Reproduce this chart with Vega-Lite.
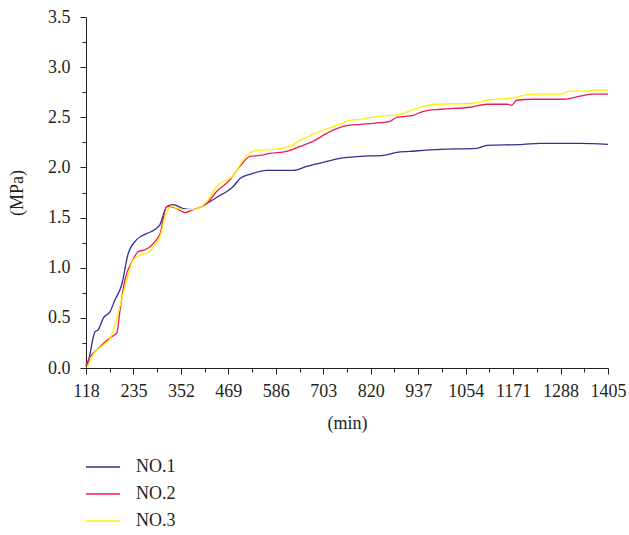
{
  "$schema": "https://vega.github.io/schema/vega-lite/v6.json",
  "autosize": {"type": "none"},
  "width": 522,
  "height": 351,
  "padding": {"left": 86, "top": 17, "right": 21, "bottom": 167},
  "background": "white",
  "config": {
    "view": {"stroke": null},
    "font": "Liberation Serif",
    "axis": {"labelFont": "Liberation Serif", "titleFont": "Liberation Serif", "labelFontSize": 18, "titleFontSize": 18, "titleFontWeight": "normal", "labelColor": "#231f20", "titleColor": "#231f20", "domainColor": "#231f20", "tickColor": "#231f20", "grid": false}
  },
  "data": {"values": [
    {"s":"NO.1","t":118,"p":0.02},{"s":"NO.1","t":124,"p":0.07},{"s":"NO.1","t":134.5,"p":0.28},{"s":"NO.1","t":140,"p":0.36},{"s":"NO.1","t":148,"p":0.38},{"s":"NO.1","t":161,"p":0.5},{"s":"NO.1","t":177,"p":0.56},{"s":"NO.1","t":189.5,"p":0.68},{"s":"NO.1","t":206,"p":0.83},{"s":"NO.1","t":222,"p":1.14},{"s":"NO.1","t":243,"p":1.28},{"s":"NO.1","t":267.6,"p":1.34},{"s":"NO.1","t":288,"p":1.38},{"s":"NO.1","t":300.4,"p":1.43},{"s":"NO.1","t":317,"p":1.61},{"s":"NO.1","t":333,"p":1.63},{"s":"NO.1","t":358,"p":1.59},{"s":"NO.1","t":382.5,"p":1.58},{"s":"NO.1","t":415.6,"p":1.64},{"s":"NO.1","t":448,"p":1.72},{"s":"NO.1","t":465,"p":1.76},{"s":"NO.1","t":481,"p":1.81},{"s":"NO.1","t":497.7,"p":1.89},{"s":"NO.1","t":522,"p":1.93},{"s":"NO.1","t":563.5,"p":1.97},{"s":"NO.1","t":629,"p":1.97},{"s":"NO.1","t":662,"p":2.01},{"s":"NO.1","t":711.5,"p":2.06},{"s":"NO.1","t":744,"p":2.09},{"s":"NO.1","t":793.6,"p":2.11},{"s":"NO.1","t":851,"p":2.12},{"s":"NO.1","t":884,"p":2.15},{"s":"NO.1","t":917,"p":2.16},{"s":"NO.1","t":991,"p":2.18},{"s":"NO.1","t":1081,"p":2.19},{"s":"NO.1","t":1106,"p":2.22},{"s":"NO.1","t":1196,"p":2.23},{"s":"NO.1","t":1237,"p":2.24},{"s":"NO.1","t":1336,"p":2.24},{"s":"NO.1","t":1405,"p":2.23},
    {"s":"NO.2","t":118,"p":0.03},{"s":"NO.2","t":128,"p":0.11},{"s":"NO.2","t":144,"p":0.18},{"s":"NO.2","t":157,"p":0.23},{"s":"NO.2","t":177,"p":0.3},{"s":"NO.2","t":194,"p":0.35},{"s":"NO.2","t":202,"p":0.58},{"s":"NO.2","t":214,"p":0.88},{"s":"NO.2","t":231,"p":1.06},{"s":"NO.2","t":247,"p":1.16},{"s":"NO.2","t":263.5,"p":1.18},{"s":"NO.2","t":276,"p":1.21},{"s":"NO.2","t":292,"p":1.28},{"s":"NO.2","t":300,"p":1.33},{"s":"NO.2","t":317,"p":1.61},{"s":"NO.2","t":337,"p":1.6},{"s":"NO.2","t":362,"p":1.55},{"s":"NO.2","t":382.5,"p":1.58},{"s":"NO.2","t":415.6,"p":1.64},{"s":"NO.2","t":440,"p":1.76},{"s":"NO.2","t":469,"p":1.86},{"s":"NO.2","t":497.7,"p":2.01},{"s":"NO.2","t":522,"p":2.11},{"s":"NO.2","t":547,"p":2.12},{"s":"NO.2","t":571.6,"p":2.14},{"s":"NO.2","t":613,"p":2.16},{"s":"NO.2","t":645.6,"p":2.21},{"s":"NO.2","t":678,"p":2.26},{"s":"NO.2","t":711.5,"p":2.34},{"s":"NO.2","t":752,"p":2.41},{"s":"NO.2","t":793.6,"p":2.43},{"s":"NO.2","t":826,"p":2.44},{"s":"NO.2","t":867.5,"p":2.46},{"s":"NO.2","t":884,"p":2.5},{"s":"NO.2","t":925,"p":2.52},{"s":"NO.2","t":950,"p":2.56},{"s":"NO.2","t":991,"p":2.58},{"s":"NO.2","t":1065,"p":2.6},{"s":"NO.2","t":1106,"p":2.63},{"s":"NO.2","t":1155,"p":2.63},{"s":"NO.2","t":1167.6,"p":2.62},{"s":"NO.2","t":1180,"p":2.67},{"s":"NO.2","t":1221,"p":2.68},{"s":"NO.2","t":1295,"p":2.68},{"s":"NO.2","t":1336,"p":2.71},{"s":"NO.2","t":1369,"p":2.73},{"s":"NO.2","t":1405,"p":2.73},
    {"s":"NO.3","t":120,"p":0.0},{"s":"NO.3","t":124,"p":0.03},{"s":"NO.3","t":140,"p":0.16},{"s":"NO.3","t":161,"p":0.23},{"s":"NO.3","t":177,"p":0.29},{"s":"NO.3","t":197.6,"p":0.55},{"s":"NO.3","t":214,"p":0.81},{"s":"NO.3","t":234.6,"p":1.08},{"s":"NO.3","t":255,"p":1.13},{"s":"NO.3","t":271.6,"p":1.15},{"s":"NO.3","t":284,"p":1.21},{"s":"NO.3","t":300.4,"p":1.31},{"s":"NO.3","t":317,"p":1.56},{"s":"NO.3","t":329,"p":1.61},{"s":"NO.3","t":358,"p":1.58},{"s":"NO.3","t":382.5,"p":1.58},{"s":"NO.3","t":415.6,"p":1.66},{"s":"NO.3","t":440,"p":1.81},{"s":"NO.3","t":481,"p":1.92},{"s":"NO.3","t":514,"p":2.12},{"s":"NO.3","t":539,"p":2.17},{"s":"NO.3","t":580,"p":2.18},{"s":"NO.3","t":621,"p":2.21},{"s":"NO.3","t":645.6,"p":2.27},{"s":"NO.3","t":695,"p":2.36},{"s":"NO.3","t":736,"p":2.42},{"s":"NO.3","t":769,"p":2.47},{"s":"NO.3","t":793.6,"p":2.48},{"s":"NO.3","t":843,"p":2.51},{"s":"NO.3","t":892,"p":2.53},{"s":"NO.3","t":941.5,"p":2.6},{"s":"NO.3","t":983,"p":2.63},{"s":"NO.3","t":1073,"p":2.64},{"s":"NO.3","t":1106,"p":2.67},{"s":"NO.3","t":1163,"p":2.69},{"s":"NO.3","t":1221,"p":2.73},{"s":"NO.3","t":1287,"p":2.73},{"s":"NO.3","t":1311,"p":2.76},{"s":"NO.3","t":1352,"p":2.76},{"s":"NO.3","t":1377,"p":2.77},{"s":"NO.3","t":1405,"p":2.77}
  ]},
  "mark": {"type": "line", "strokeWidth": 1.3, "interpolate": "monotone"},
  "encoding": {
    "x": {"field": "t", "type": "quantitative", "title": "(min)",
      "scale": {"domain": [118, 1405], "nice": false, "zero": false},
      "axis": {
        "values": [118,176.5,235,293.5,352,410.5,469,527.5,586,644.5,703,761.5,820,878.5,937,995.5,1054,1112.5,1171,1229.5,1288,1346.5,1405],
        "labelExpr": "abs(((datum.value-118)/117) - round((datum.value-118)/117)) < 0.01 ? format(datum.value, 'd') : ''",
        "tickSize": {"condition": {"test": "abs(((datum.value-118)/117) - round((datum.value-118)/117)) < 0.01", "value": 6}, "value": 4},
        "labelOverlap": false, "labelFlush": false, "labelPadding": 8, "titlePadding": 14
      }
    },
    "y": {"field": "p", "type": "quantitative", "title": "(MPa)",
      "scale": {"domain": [0, 3.5], "nice": false},
      "axis": {
        "values": [0,0.25,0.5,0.75,1,1.25,1.5,1.75,2,2.25,2.5,2.75,3,3.25,3.5],
        "labelExpr": "abs(datum.value*2 - round(datum.value*2)) < 0.01 ? format(datum.value, '.1f') : ''",
        "tickSize": {"condition": {"test": "abs(datum.value*2 - round(datum.value*2)) < 0.01", "value": 6}, "value": 4},
        "labelOverlap": false, "labelFlush": false, "labelPadding": 10, "titlePadding": 21
      }
    },
    "color": {"field": "s", "type": "nominal",
      "scale": {"domain": ["NO.1", "NO.2", "NO.3"], "range": ["#2e3192", "#ec1c5c", "#fff200"]},
      "legend": {"title": null, "orient": "none", "legendX": -1, "legendY": 432, "direction": "vertical",
        "symbolType": "stroke", "symbolSize": 1156, "symbolStrokeWidth": 1.3, "rowPadding": -7.5,
        "labelFont": "Liberation Serif", "labelFontSize": 18, "labelColor": "#231f20", "labelOffset": 15}
    }
  }
}
